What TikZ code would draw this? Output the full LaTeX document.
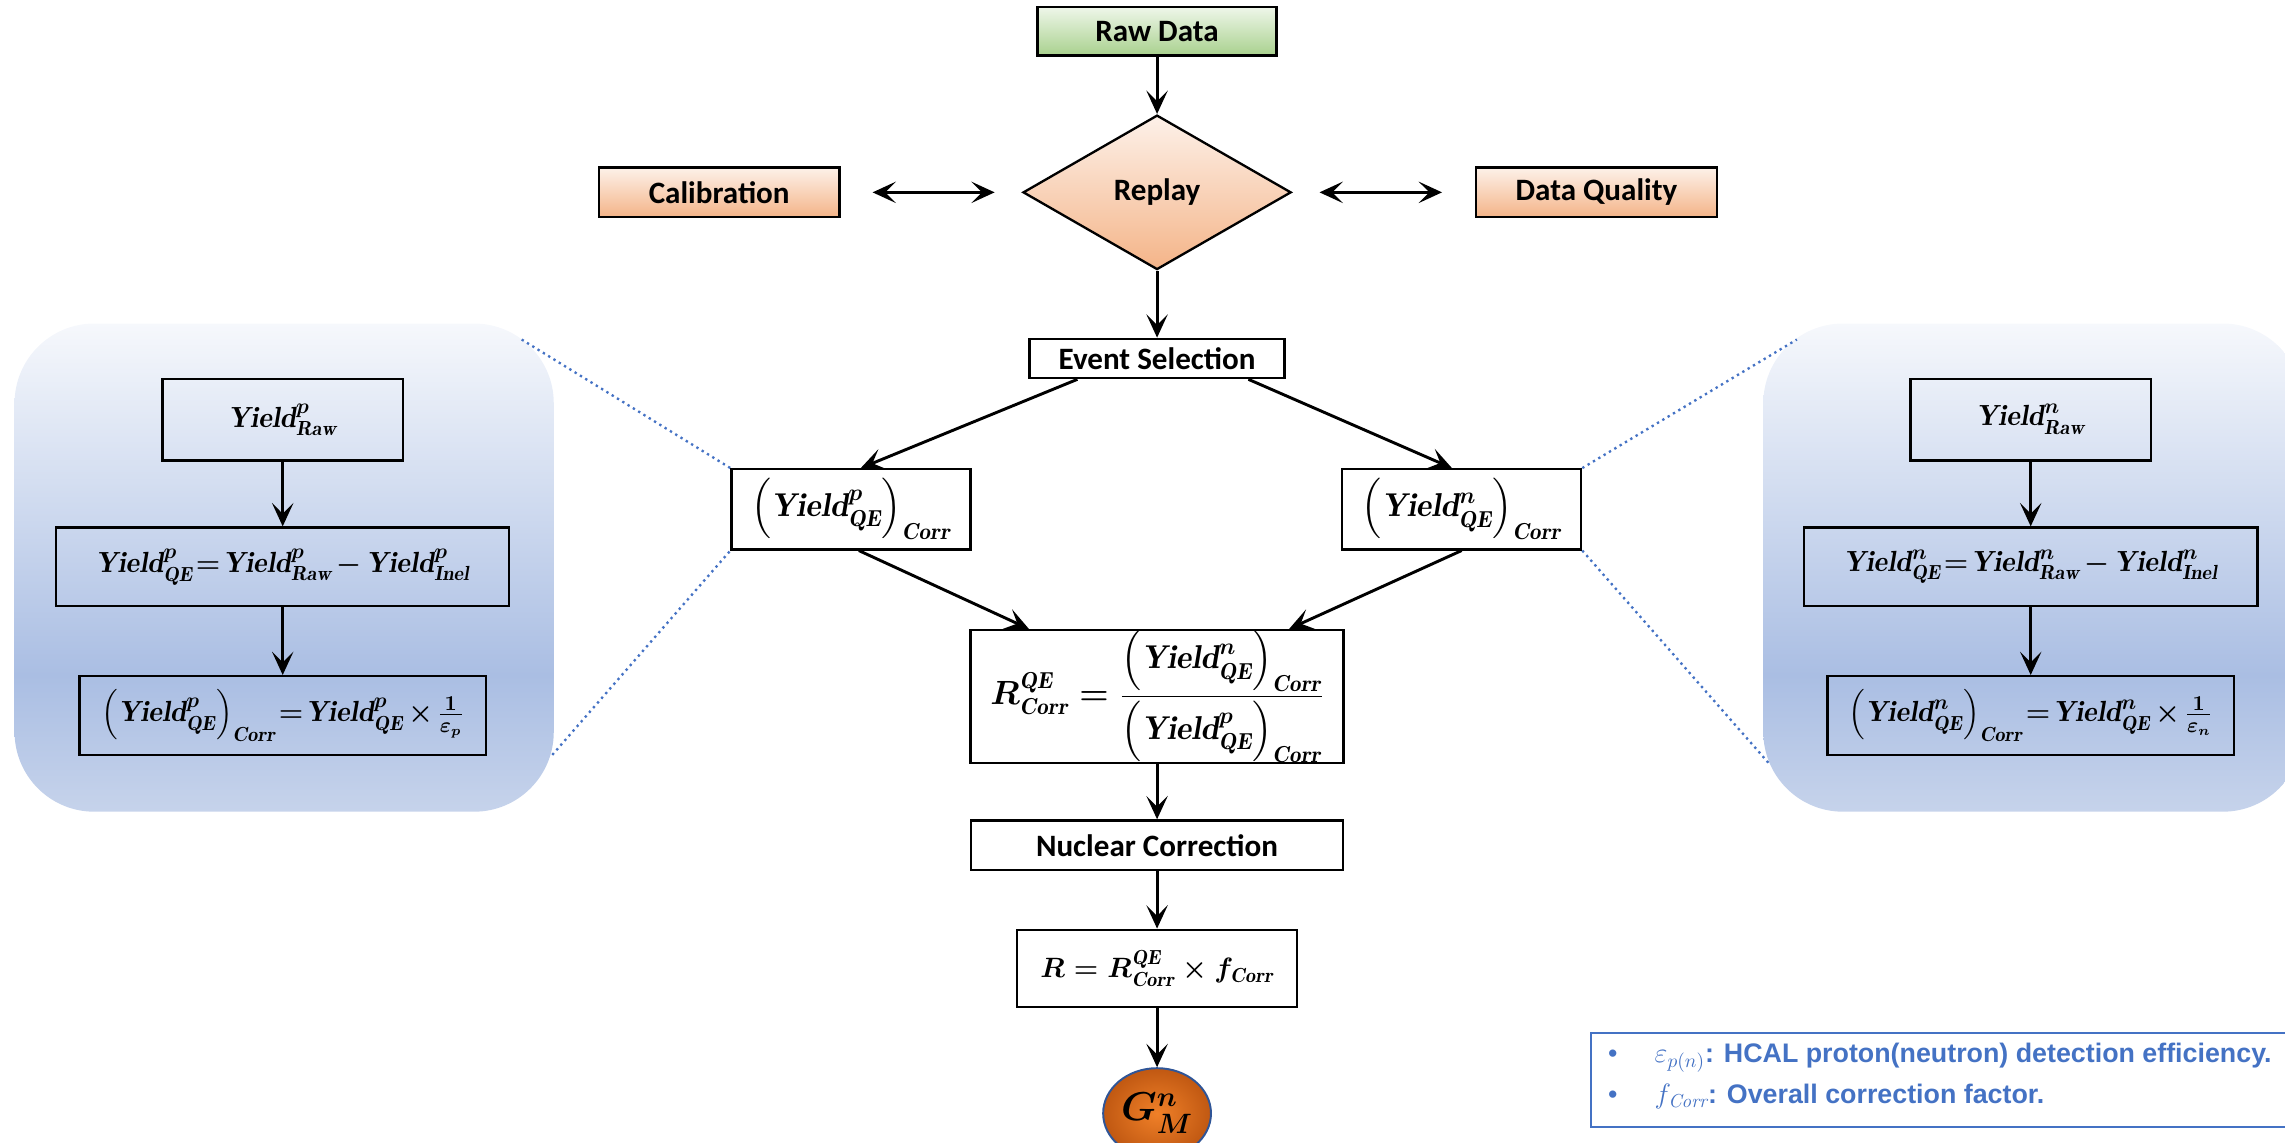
\documentclass[tikz,border=0pt]{standalone}
\usepackage{fontspec}
\usepackage{amsmath}
\usetikzlibrary{arrows.meta,shapes.geometric}

\newfontfamily\calibri{Carlito}
\newfontfamily\arial{Liberation Sans}

\definecolor{orangetop}{RGB}{253,241,233}
\definecolor{orangebot}{RGB}{244,180,136}
\definecolor{greentop}{RGB}{238,246,233}
\definecolor{greenbot}{RGB}{169,209,142}
\definecolor{paneltop}{RGB}{246,248,252}
\definecolor{panelmid}{RGB}{170,190,227}
\definecolor{panelbot}{RGB}{198,211,235}
\definecolor{linkblue}{RGB}{68,114,196}
\definecolor{gmin}{RGB}{240,128,40}
\definecolor{gmout}{RGB}{192,88,18}
\definecolor{gmedge}{RGB}{47,85,151}

\pgfdeclareverticalshading{panelfade}{100bp}{color(0bp)=(panelbot); color(25bp)=(panelbot); color(39bp)=(panelmid); color(75bp)=(paneltop); color(100bp)=(paneltop)}

\newcommand{\yld}[2]{\mathit{Yield}^{#1}_{\mathit{#2}}}

\tikzset{every picture/.style={line width=0.75pt},
  flowbox/.style={draw, line width=1.2pt, inner sep=0pt, font=\calibri\bfseries\fontsize{16}{19}\selectfont},
  mathbox/.style={draw, line width=1.2pt, inner sep=0pt, font=\fontsize{15}{18}\selectfont\boldmath},
  tightmath/.style={mathbox, execute at begin node={\thickmuskip=1.5mu\medmuskip=2.5mu}},
  bigmath/.style={mathbox, font=\fontsize{17}{20}\selectfont\boldmath},
  orangebox/.style={flowbox, top color=orangetop, bottom color=orangebot},
  panel/.style={shade, shading=panelfade, rounded corners=41pt, inner sep=0pt, minimum width=277.5pt, minimum height=251.25pt},
  flow/.style={-{Stealth[length=12pt,width=11pt,inset=5.5pt]}, line width=1.5pt},
  both/.style={{Stealth[length=12pt,width=11pt,inset=5.5pt]}-{Stealth[length=12pt,width=11pt,inset=5.5pt]}, line width=1.5pt},
  zoomline/.style={linkblue, dotted, line width=1.2pt},
  legtext/.style={linkblue, inner sep=0pt, anchor=base west, font=\arial\bfseries\fontsize{13.8}{16}\selectfont}
}

\begin{document}
\begin{tikzpicture}[x=0.75pt,y=0.75pt,yscale=-1,xscale=1]
\useasboundingbox (0,0) rectangle (1568,784);

%Shape: Panels (proton, neutron)
\node[panel] (ppanel) at (195,389.5) {};
\node[panel] (npanel) at (1395,389.5) {};

%Shape: Rectangle [Raw Data]
\node[flowbox, top color=greentop, bottom color=greenbot, minimum width=123pt, minimum height=24.75pt] (rawdata) at (794,21.5) {Raw Data};
%Shape: Diamond [Replay]
\node[orangebox, diamond, minimum width=138pt, minimum height=79.5pt] (replay) at (794,132) {Replay};
%Shape: Rectangle [Calibration]
\node[orangebox, minimum width=123.75pt, minimum height=25.5pt] (calib) at (493.5,132) {Calibration};
%Shape: Rectangle [Data Quality]
\node[orangebox, minimum width=123.75pt, minimum height=25.5pt] (dataq) at (1095.5,132) {Data Quality};
%Shape: Rectangle [Event Selection]
\node[flowbox, minimum width=131.25pt, minimum height=20.25pt] (evsel) at (794,246) {Event Selection};

%Shape: Rectangle [corrected yields]
\node[bigmath, minimum width=123pt, minimum height=41.25pt] (corrp) at (584,349.5) {$\left(\yld{p}{QE}\right)_{\mathit{Corr}}$};
\node[bigmath, minimum width=123pt, minimum height=41.25pt] (corrn) at (1003,349.5) {$\left(\yld{n}{QE}\right)_{\mathit{Corr}}$};
%Shape: Rectangle [ratio]
\node[bigmath, minimum width=192pt, minimum height=67.5pt] (ratio) at (794,478) {$R^{\mathit{QE}}_{\mathit{Corr}}=\dfrac{\left(\yld{n}{QE}\right)_{\mathit{Corr}}}{\left(\yld{p}{QE}\right)_{\mathit{Corr}}}$};
%Shape: Rectangle [Nuclear Correction]
\node[flowbox, minimum width=191.25pt, minimum height=25.5pt] (nucl) at (794,580) {Nuclear Correction};
%Shape: Rectangle [final ratio]
\node[mathbox, minimum width=144pt, minimum height=39.75pt] (rfinal) at (794,664.5) {$R=R^{\mathit{QE}}_{\mathit{Corr}}\times f_{\mathit{Corr}}$};
%Shape: Ellipse [GMn]
\node[ellipse, draw=gmedge, line width=1pt, inner color=gmin, outer color=gmout, inner sep=-3pt, minimum width=55.5pt, minimum height=46.5pt, font=\fontsize{22}{24}\selectfont\boldmath] (gmn) at (794,764) {$G^{n}_{M}$};

%Shape: Rectangle [proton panel]
\node[mathbox, minimum width=123.75pt, minimum height=42pt] (rawp) at (194,288) {$\yld{p}{Raw}$};
\node[tightmath, minimum width=233.25pt, minimum height=40.5pt] (qep) at (194,389) {$\yld{p}{QE}=\yld{p}{Raw}-\yld{p}{Inel}$};
\node[tightmath, minimum width=209.25pt, minimum height=40.5pt] (corrpp) at (194,491) {$\left(\yld{p}{QE}\right)_{\mathit{Corr}}=\yld{p}{QE}\times\frac{1}{\varepsilon_p}$};
%Shape: Rectangle [neutron panel]
\node[mathbox, minimum width=123.75pt, minimum height=42pt] (rawn) at (1393.5,288) {$\yld{n}{Raw}$};
\node[tightmath, minimum width=233.25pt, minimum height=40.5pt] (qen) at (1393.5,389) {$\yld{n}{QE}=\yld{n}{Raw}-\yld{n}{Inel}$};
\node[tightmath, minimum width=209.25pt, minimum height=40.5pt] (corrnn) at (1393.5,491) {$\left(\yld{n}{QE}\right)_{\mathit{Corr}}=\yld{n}{QE}\times\frac{1}{\varepsilon_n}$};

%Shape: Rectangle [legend]
\node[draw=linkblue, line width=1pt, anchor=north west, minimum width=400pt, minimum height=48.75pt] (legend) at (1091,708) {};
\node[legtext] (leg1) at (1103,729) {\makebox[24pt][l]{\mdseries\textbullet}$\varepsilon_{p(n)}$: HCAL proton(neutron) detection efficiency.};
\node[legtext] (leg2) at (1103,757) {\makebox[24pt][l]{\mdseries\textbullet}$f_{\mathit{Corr}}$: Overall correction factor.};

%Straight Lines [main chain]
\draw[flow] (rawdata) -- (replay);
\draw[flow] (replay) -- (evsel);
\draw[both, shorten <=16.5pt, shorten >=14pt] (calib) -- (replay);
\draw[both, shorten <=14pt, shorten >=17pt] (replay) -- (dataq);
\draw[flow] ([xshift=-41pt]evsel.south) -- ([xshift=5pt]corrp.north);
\draw[flow] ([xshift=47pt]evsel.south) -- ([xshift=-5pt]corrn.north);
\draw[flow] ([xshift=4pt]corrp.south) -- ([xshift=-66pt]ratio.north);
\draw[flow] (corrn.south) -- ([xshift=68pt]ratio.north);
\draw[flow] (ratio) -- (nucl);
\draw[flow] (nucl) -- (rfinal);
\draw[flow] (rfinal) -- (gmn);
%Straight Lines [panels]
\draw[flow] (rawp) -- (qep);
\draw[flow] (qep) -- (corrpp);
\draw[flow] (rawn) -- (qen);
\draw[flow] (qen) -- (corrnn);

%Dotted Lines [zoom]
\coordinate (pz1) at (358,233);
\coordinate (pz2) at (379,518);
\coordinate (nz1) at (1233,233);
\coordinate (nz2) at (1214,524);
\draw[zoomline] (pz1) -- (corrp.north west);
\draw[zoomline] (pz2) -- (corrp.south west);
\draw[zoomline] (corrn.north east) -- (nz1);
\draw[zoomline] (corrn.south east) -- (nz2);

\end{tikzpicture}
\end{document}
